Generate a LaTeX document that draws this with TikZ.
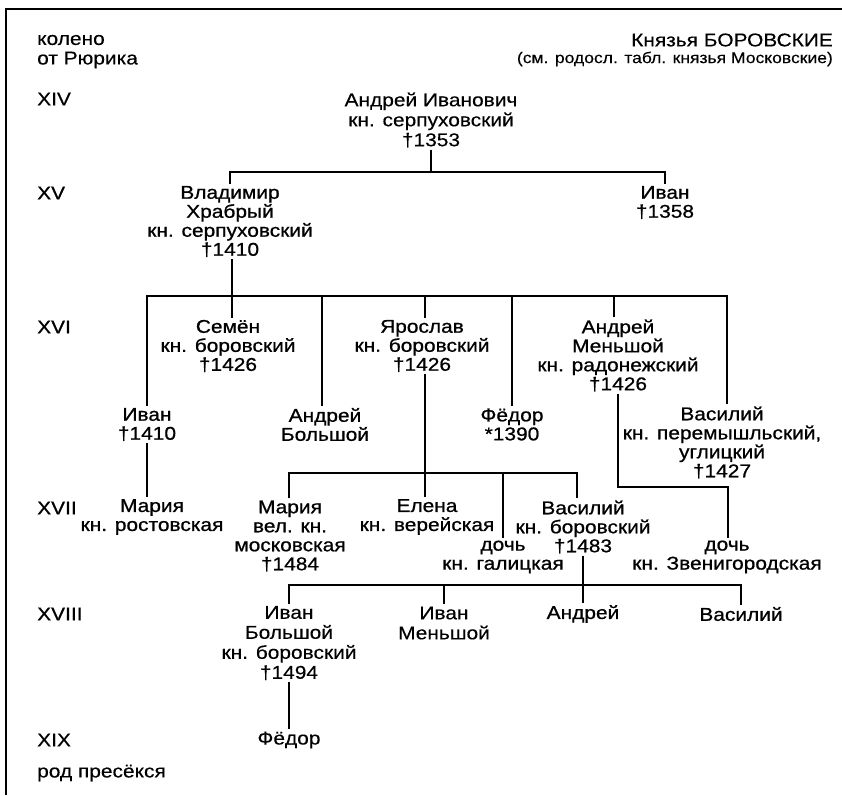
\documentclass[tikz,border=0pt]{standalone}
\usepackage{fontspec}
\setmainfont{Liberation Sans}
\newfontfamily\pfam[FakeStretch=1.13,FakeBold=0.8]{Liberation Sans}
\newfontfamily\lfam[FakeStretch=1.13,FakeBold=0.3]{Liberation Sans}
\newcommand\pf{\pfam\fontsize{18.5}{19}\selectfont}
\newcommand\lf{\lfam\fontsize{18.5}{20}\selectfont}
\newcommand\smallpf{\lfam\fontsize{15.5}{18}\selectfont}
\tikzset{
  pn/.style={font=\pf, align=center, inner sep=2pt},
  pl/.style={font=\lf, align=center, inner sep=2pt},
  lbl/.style={font=\lf, anchor=west, inner sep=0pt},
  lbb/.style={font=\pf, anchor=west, inner sep=0pt},
  rl/.style={anchor=east, inner sep=0pt},
  ln/.style={line width=1.1pt},
  fr/.style={line width=1.6pt}
}
\begin{document}
\begin{tikzpicture}[x=1pt,y=-1pt]
\useasboundingbox (0,0) rectangle (842,795);
% frame
\coordinate (ftl) at (6,9);
\coordinate (ftr) at (842,9);
\coordinate (fbl) at (6,795);
\draw[fr] (ftr) -- (ftl) -- (fbl);
% header
\node[lbl] (k1) at (37,40) {колено};
\node[lbl] (k2) at (37,60) {от Рюрика};
\node[rl,font=\lf] (t1) at (833,40) {Князья БОРОВСКИЕ};
\node[rl,font=\smallpf] (t2) at (833,59) {(см. родосл. табл. князья Московские)};
% generation labels
\node[lbl] (g14) at (37,99) {XIV};
\node[lbb] (g15) at (37,193) {XV};
\node[lbb] (g16) at (37,327) {XVI};
\node[lbb] (g17) at (37,508) {XVII};
\node[lbb] (g18) at (37,614) {XVIII};
\node[lbl] (g19) at (37,740) {XIX};
\node[lbl] (end) at (37,773) {род пресёкся};
% persons
\node[pl] (ai) at (431,120) {Андрей Иванович\\кн. серпуховский\\†1353};
\node[pn] (vl) at (230,221.5) {Владимир\\Храбрый\\кн. серпуховский\\†1410};
\node[pn] (iv1) at (665,202.5) {Иван\\†1358};
\node[pn] (sem) at (228,346) {Семён\\кн. боровский\\†1426};
\node[pn] (yar) at (422,346) {Ярослав\\кн. боровский\\†1426};
\node[pn] (am) at (618,355.5) {Андрей\\Меньшой\\кн. радонежский\\†1426};
\node[pn] (iv2) at (147,424.5) {Иван\\†1410};
\node[pn] (ab) at (325,424.5) {Андрей\\Большой};
\node[pn] (fed) at (512,424.5) {Фёдор\\*1390};
\node[pn] (vas1) at (722,442.5) {Василий\\кн. перемышльский,\\углицкий\\†1427};
\node[pn] (mr) at (152,517) {Мария\\кн. ростовская};
\node[pn] (mm) at (290,536) {Мария\\вел. кн.\\московская\\†1484};
\node[pn] (el) at (427,517) {Елена\\кн. верейская};
\node[pn] (dg) at (503,557) {дочь\\кн. галицкая};
\node[pn] (vb) at (583,527) {Василий\\кн. боровский\\†1483};
\node[pn] (dz) at (727,557) {дочь\\кн. Звенигородская};
\node[pl] (ib) at (289,643) {Иван\\Большой\\кн. боровский\\†1494};
\node[pl] (im) at (444,623) {Иван\\Меньшой};
\node[pn] (an) at (583,614) {Андрей};
\node[pn] (vs) at (741,614) {Василий};
\node[pl] (fd) at (289,740) {Фёдор};
% bus levels
\coordinate (b1) at (0,172);
\coordinate (b2) at (0,296);
\coordinate (b3) at (0,473);
\coordinate (b4) at (0,487);
\coordinate (b5) at (0,585);
% XIV -> XV
\draw[ln] (ai.south) -- (ai |- b1);
\draw[ln] (vl.north) -- (vl |- b1) -- (iv1 |- b1) -- (iv1.north);
% XV -> XVI
\draw[ln] ([xshift=2pt]vl.south) -- ([xshift=2pt]vl.south |- sem.north);
\draw[ln] (iv2.north) -- (iv2 |- b2) -- ([xshift=5pt]vas1.north |- b2) -- ([xshift=5pt]vas1.north);
\draw[ln] ([xshift=-3pt]ab.north) -- ([xshift=-3pt]ab.north |- b2);
\draw[ln] ([xshift=3pt]yar.north) -- ([xshift=3pt]yar.north |- b2);
\draw[ln] (fed.north) -- (fed.north |- b2);
\draw[ln] ([xshift=-4pt]am.north) -- ([xshift=-4pt]am.north |- b2);
% Ivan -> Maria
\draw[ln] (iv2.south) -- (iv2.south |- mr.north);
% Yaroslav -> children
\draw[ln] ([xshift=3pt]yar.south) -- ([xshift=-2pt]el.north);
\draw[ln] ([xshift=-1pt]mm.north) -- ([xshift=-1pt]mm.north |- b3) -- ([xshift=-6pt]vb.north |- b3) -- ([xshift=-6pt]vb.north);
\draw[ln] (dg.north) -- (dg.north |- b3);
% Andrei Menshoi -> daughter
\draw[ln] (am.south) -- (am.south |- b4) -- ([xshift=1pt]dz.north |- b4) -- ([xshift=1pt]dz.north);
% Vasily -> children
\draw[ln] (vb.south) -- (an.north);
\draw[ln] (ib.north) -- (ib.north |- b5) -- (vs.north |- b5) -- (vs.north);
\draw[ln] (im.north) -- (im.north |- b5);
% Ivan Bolshoi -> Fedor
\draw[ln] (ib.south) -- (fd.north);
\end{tikzpicture}
\end{document}
